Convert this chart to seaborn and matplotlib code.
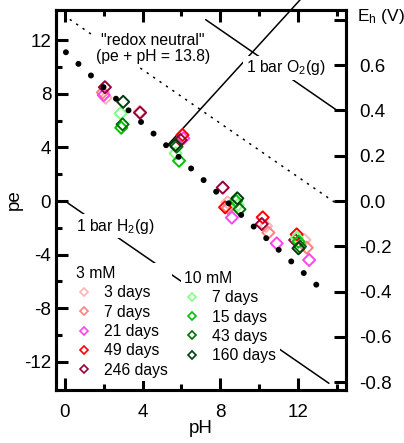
import numpy as np
import pandas as pd
import matplotlib
matplotlib.use("Agg")
import matplotlib.pyplot as plt
import seaborn as sns
from matplotlib.lines import Line2D

# ---------------- data ----------------
labels_3mM = ["3 days", "7 days", "21 days", "49 days", "246 days"]
colors_3mM = ["#FFB4B4", "#FF8080", "#FF44EE", "#FF0000", "#99003A"]
ph_3d = [2.10, 3.85, 8.37, 10.36, 12.34]
pe_3d = [7.70, 6.65, -0.10, -1.87, -2.91]
ph_7d = [1.95, 8.40, 10.48, 12.46]
pe_7d = [8.10, -0.52, -2.36, -3.48]
ph_21d = [2.00, 6.10, 8.60, 10.91, 12.58]
pe_21d = [7.90, 4.68, -1.24, -3.16, -4.40]
ph_49d = [6.06, 8.25, 10.19, 11.94]
pe_49d = [4.93, -0.47, -1.22, -2.49]
ph_246d = [2.06, 3.87, 5.96, 8.13, 10.14, 11.86]
pe_246d = [8.49, 6.59, 4.55, 1.00, -1.72, -2.91]

labels_10mM = ["7 days", "15 days", "43 days", "160 days"]
colors_10mM = ["#80FF80", "#00C000", "#007000", "#003A10"]
ph_10_7d = [2.87, 5.70, 8.90, 11.95]
pe_10_7d = [6.54, 3.56, -0.30, -2.75]
ph_10_15d = [2.90, 5.88, 8.82, 12.03]
pe_10_15d = [5.47, 3.00, 0.00, -3.03]
ph_10_43d = [2.97, 5.75, 8.99, 12.11]
pe_10_43d = [5.72, 4.05, -0.62, -3.40]
ph_10_160d = [3.00, 5.70, 8.88, 12.03]
pe_10_160d = [7.40, 4.18, 0.20, -3.53]

# reference lines (end points)
fit_ph = [0.05, 13.55]
fit_pe = [11.10, -7.05]
neutral_ph = [0.25, 14.0]
neutral_pe = [13.55, -0.20]
o2_ph = [7.25, 14.0]
o2_pe = [13.53, 6.78]
h2_ph = [0.15, 13.6]
h2_pe = [-0.15, -13.6]
leader_ph = [5.30, 12.60]
leader_pe = [4.18, 15.78]

EH_PER_PE = 0.05916
x_major = [0, 4, 8, 12]
x_minor = [2, 6, 10, 14]
y_major = [12, 8, 4, 0, -4, -8, -12]
y_minor = [10, 6, 2, -2, -6, -10]
eh_ticks = [0.8, 0.6, 0.4, 0.2, 0.0, -0.2, -0.4, -0.6, -0.8]
eh_labels = ["", "0.6", "0.4", "0.2", "0.0", "-0.2", "-0.4", "-0.6", "-0.8"]

# ---------------- style ----------------
sns.set_theme(style="ticks")
plt.rcParams["font.family"] = ["Liberation Sans", "DejaVu Sans"]
plt.rcParams["axes.unicode_minus"] = False
plt.rcParams["mathtext.fontset"] = "custom"
plt.rcParams["mathtext.rm"] = "Liberation Sans"
plt.rcParams["mathtext.it"] = "Liberation Sans:italic"
for k in ["text.color", "axes.labelcolor", "xtick.color", "ytick.color", "axes.edgecolor"]:
    plt.rcParams[k] = "black"

fig = plt.figure(figsize=(4.04, 4.43), dpi=100)
ax = fig.add_axes([56 / 404, 53 / 443, 290 / 404, 380 / 443])

# ---------------- points ----------------
series = [
    ("3 mM 3 days", ph_3d, pe_3d, colors_3mM[0]),
    ("3 mM 7 days", ph_7d, pe_7d, colors_3mM[1]),
    ("3 mM 21 days", ph_21d, pe_21d, colors_3mM[2]),
    ("3 mM 49 days", ph_49d, pe_49d, colors_3mM[3]),
    ("3 mM 246 days", ph_246d, pe_246d, colors_3mM[4]),
    ("10 mM 7 days", ph_10_7d, pe_10_7d, colors_10mM[0]),
    ("10 mM 15 days", ph_10_15d, pe_10_15d, colors_10mM[1]),
    ("10 mM 43 days", ph_10_43d, pe_10_43d, colors_10mM[2]),
    ("10 mM 160 days", ph_10_160d, pe_10_160d, colors_10mM[3]),
]
rows = []
for name, xs, ys, c in series:
    for x, y in zip(xs, ys):
        rows.append({"pH": x, "pe": y, "series": name})
df = pd.DataFrame(rows)
palette = {name: c for name, _, _, c in series}

sns.scatterplot(data=df, x="pH", y="pe", hue="series", palette=palette,
                marker="D", s=38, legend=False, ax=ax, zorder=4)
coll = ax.collections[-1]
fcs = coll.get_facecolors()
coll.set_edgecolors(fcs)
coll.set_facecolors("none")
coll.set_linewidths(1.4)

# ---------------- lines ----------------
ax.plot(fit_ph, fit_pe, color="black", lw=4.3, linestyle=(0, (0.01, 2.85)),
        dash_capstyle="round", zorder=5)
ax.plot(neutral_ph, neutral_pe, color="black", lw=1.1, linestyle=(0, (1.5, 3.6)), zorder=2)
ax.plot(o2_ph, o2_pe, color="black", lw=1.1, zorder=2)
ax.plot(h2_ph, h2_pe, color="black", lw=1.1, zorder=2)
ax.plot(leader_ph, leader_pe, color="black", lw=1.1, zorder=2, clip_on=False)

# ---------------- annotations ----------------
bb = dict(facecolor="white", edgecolor="none", pad=2.0)
ax.text(4.54, 11.38, '"redox neutral"\n(pe + pH = 13.8)', ha="center", va="center",
        fontsize=11.3, linespacing=1.1, bbox=bb, zorder=6)
ax.text(11.39, 9.93, r"1 bar O$_\mathrm{2}$(g)", ha="center", va="center",
        fontsize=11.3, bbox=bb, zorder=6)
ax.text(2.58, -1.87, r"1 bar H$_\mathrm{2}$(g)", ha="center", va="center",
        fontsize=11.3, bbox=bb, zorder=6)

# ---------------- axes ----------------
ax.set_xlim(-0.46, 14.48)
ax.set_ylim(-14.1, 14.25)
ax.set_xticks(x_major)
ax.set_xticks(x_minor, minor=True)
ax.set_yticks(y_major)
ax.set_yticks(y_minor, minor=True)
ax.tick_params(which="both", direction="in", top=True, bottom=True, left=True,
               right=False, width=2.2, labelsize=13.5)
ax.tick_params(which="major", length=8.5)
ax.tick_params(which="minor", length=4.5)
ax.tick_params(axis="x", pad=10)
ax.tick_params(axis="y", pad=3.5)
for s in ax.spines.values():
    s.set_linewidth(2.2)
ax.set_xlabel("pH", fontsize=13.5)
ax.set_ylabel("pe", fontsize=13.5)
ax.xaxis.set_label_coords(0.5, -0.08)
ax.yaxis.set_label_coords(-0.114, 0.5)

ax2 = ax.twinx()
y0, y1 = ax.get_ylim()
ax2.set_ylim(y0 * EH_PER_PE, y1 * EH_PER_PE)
ax2.set_yticks(eh_ticks)
ax2.set_yticklabels(eh_labels)
ax2.tick_params(direction="in", length=8.5, width=2.2, labelsize=13.5, pad=9.5)
for s in ax2.spines.values():
    s.set_linewidth(2.2)
ax.text(1.038, 0.982, r"E$_\mathrm{h}$ (V)", transform=ax.transAxes, ha="left",
        va="center", fontsize=12.5)

# ---------------- legends ----------------
h3 = [Line2D([], [], ls="none", marker="D", ms=4.5, mfc="none", mec=c, mew=1.2)
      for c in colors_3mM]
h10 = [Line2D([], [], ls="none", marker="D", ms=4.5, mfc="none", mec=c, mew=1.2)
       for c in colors_10mM]
common = dict(loc="upper left", frameon=True, fontsize=11.3, title_fontsize=11.3,
              handlelength=1.0, handletextpad=0.8, labelspacing=0.28, borderpad=0.2,
              borderaxespad=0, alignment="left", framealpha=1, facecolor="white",
              edgecolor="none", fancybox=False)
leg1 = ax.legend(h3, labels_3mM, title="3 mM", bbox_to_anchor=(0.059, 0.335), **common)
leg1.set_zorder(10)
ax.add_artist(leg1)
leg2 = ax.legend(h10, labels_10mM, title="10 mM", bbox_to_anchor=(0.431, 0.322), **common)
leg2.set_zorder(10)

fig.savefig("out.png", dpi=100)
